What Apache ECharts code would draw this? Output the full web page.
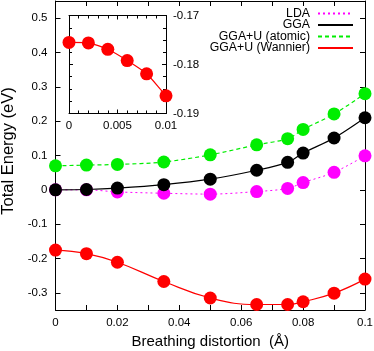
<!DOCTYPE html>
<html>
<head>
<meta charset="utf-8">
<script src="https://cdn.jsdelivr.net/npm/echarts@6/dist/echarts.min.js"></script>
<style>
html, body { margin: 0; padding: 0; background: #fff; }
#main { width: 374px; height: 351px; }
</style>
</head>
<body>
<div id="main"></div>
<script>
var distortion = [0, 0.01, 0.02, 0.035, 0.05, 0.065, 0.075, 0.08, 0.09, 0.1];
var lda      = [0, 0, -0.006, -0.010, -0.0125, -0.005, 0.004, 0.021, 0.051, 0.099];
var gga      = [0, 0.001, 0.005, 0.015, 0.031, 0.057, 0.080, 0.107, 0.151, 0.210];
var ggaUAtom = [0.070, 0.072, 0.074, 0.081, 0.102, 0.131, 0.149, 0.176, 0.221, 0.280];
var ggaUWann = [-0.1755, -0.186, -0.211, -0.267, -0.315, -0.334, -0.334, -0.326, -0.301, -0.260];

var insetX = [0, 0.002, 0.004, 0.006, 0.008, 0.01];
var insetY = [-0.1755, -0.1756, -0.1769, -0.1792, -0.1819, -0.1864];

var yTicks = [-0.3, -0.2, -0.1, 0, 0.1, 0.2, 0.3, 0.4, 0.5];
var seriesNames = ['LDA', 'GGA', 'GGA+U (atomic)', 'GGA+U (Wannier)'];

var font = 'Liberation Sans, Arial, sans-serif';

function pairs(xs, ys) {
	return xs.map(function(x, i) { return [x, ys[i]]; });
}
function fmt(v) {
	return String(Math.round(v * 10000) / 10000);
}

var chart = echarts.init(document.getElementById('main'));

var lineAx = { show: true, onZero: false, lineStyle: { color: '#000', width: 1 } };
var labelSt = { color: '#000', fontSize: 11.5, fontFamily: font };

function legendFor(i, top) {
	return {
		data: [seriesNames[i]],
		right: 20, top: top,
		align: 'right',
		itemWidth: 35, itemHeight: 8, itemGap: 0,
		itemStyle: { opacity: 0 },
		textStyle: { color: '#000', fontSize: 12.3, fontFamily: font, padding: [0, 3, 0, 0] },
		padding: 0,
		selectedMode: false
	};
}

var option = {
	animation: false,
	backgroundColor: '#fff',
	grid: [
		{ left: 55.5, right: 9, top: 1, bottom: 41, outerBoundsMode: 'none', containLabel: false },
		{ left: 69, top: 15.5, width: 97, height: 98, outerBoundsMode: 'none', containLabel: false,
		  show: true, backgroundColor: '#fff', borderWidth: 0 }
	],
	legend: [legendFor(0, 7.5), legendFor(1, 19), legendFor(2, 30.5), legendFor(3, 42)],
	xAxis: [
		{
			type: 'value', gridIndex: 0, min: 0, max: 0.1, interval: 0.02,
			name: 'Breathing distortion  (Å)', nameLocation: 'middle', nameGap: 23,
			nameTextStyle: { color: '#000', fontSize: 15, fontFamily: font },
			axisLine: lineAx, splitLine: { show: false },
			axisTick: { inside: true, length: 5, lineStyle: { color: '#000' } },
			minorTick: { show: true, splitNumber: 2, length: 5, lineStyle: { color: '#000' } },
			axisLabel: Object.assign({ margin: 7, formatter: fmt }, labelSt)
		},
		{
			type: 'value', gridIndex: 0, position: 'top', min: 0, max: 0.1, interval: 0.02,
			axisLine: lineAx, splitLine: { show: false }, axisLabel: { show: false },
			axisTick: { inside: true, length: 5, lineStyle: { color: '#000' } },
			minorTick: { show: true, splitNumber: 2, length: 5, lineStyle: { color: '#000' } }
		},
		{
			type: 'value', gridIndex: 1, min: 0, max: 0.01, interval: 0.005,
			axisLine: lineAx, splitLine: { show: false },
			axisTick: { inside: true, length: 4, lineStyle: { color: '#000' } },
			minorTick: { show: true, splitNumber: 5, length: 3, lineStyle: { color: '#000' } },
			axisLabel: Object.assign({ margin: 6, formatter: fmt }, labelSt)
		},
		{
			type: 'value', gridIndex: 1, position: 'top', min: 0, max: 0.01, interval: 0.005,
			axisLine: lineAx, splitLine: { show: false }, axisLabel: { show: false },
			axisTick: { inside: true, length: 4, lineStyle: { color: '#000' } },
			minorTick: { show: true, splitNumber: 5, length: 3, lineStyle: { color: '#000' } }
		}
	],
	yAxis: [
		{
			type: 'value', gridIndex: 0, min: -0.35, max: 0.55,
			name: 'Total Energy (eV)', nameLocation: 'middle', nameGap: 35,
			nameTextStyle: { color: '#000', fontSize: 16.5, fontFamily: font, padding: [0, 0, 0, 9] },
			axisLine: lineAx, splitLine: { show: false },
			axisTick: { inside: true, length: 5, customValues: yTicks, lineStyle: { color: '#000' } },
			axisLabel: Object.assign({ margin: 8, customValues: yTicks, formatter: fmt }, labelSt)
		},
		{
			type: 'value', gridIndex: 0, position: 'right', min: -0.35, max: 0.55,
			axisLine: lineAx, splitLine: { show: false }, axisLabel: { show: false },
			axisTick: { inside: true, length: 5, customValues: yTicks, lineStyle: { color: '#000' } }
		},
		{
			type: 'value', gridIndex: 1, position: 'right', min: -0.19, max: -0.17, interval: 0.01,
			axisLine: lineAx, splitLine: { show: false },
			axisTick: { inside: true, length: 4, lineStyle: { color: '#000' } },
			minorTick: { show: true, splitNumber: 4, length: 3, lineStyle: { color: '#000' } },
			axisLabel: Object.assign({ margin: 7, formatter: fmt }, labelSt)
		},
		{
			type: 'value', gridIndex: 1, position: 'left', min: -0.19, max: -0.17, interval: 0.01,
			axisLine: lineAx, splitLine: { show: false }, axisLabel: { show: false },
			axisTick: { inside: true, length: 4, lineStyle: { color: '#000' } },
			minorTick: { show: true, splitNumber: 4, length: 3, lineStyle: { color: '#000' } }
		}
	],
	series: [
		{
			name: seriesNames[0], type: 'line', xAxisIndex: 0, yAxisIndex: 0,
			data: pairs(distortion, lda), smooth: 0.3,
			symbol: 'circle', symbolSize: 13, color: '#ff00ff',
			lineStyle: { color: '#ff00ff', width: 1, type: [2, 3] }
		},
		{
			name: seriesNames[1], type: 'line', xAxisIndex: 0, yAxisIndex: 0,
			data: pairs(distortion, gga), smooth: 0.3,
			symbol: 'circle', symbolSize: 13, color: '#000',
			lineStyle: { color: '#000', width: 1.2 }
		},
		{
			name: seriesNames[2], type: 'line', xAxisIndex: 0, yAxisIndex: 0,
			data: pairs(distortion, ggaUAtom), smooth: 0.3,
			symbol: 'circle', symbolSize: 13, color: '#00ee00',
			lineStyle: { color: '#00ee00', width: 1.2, type: [4, 3] }
		},
		{
			name: seriesNames[3], type: 'line', xAxisIndex: 0, yAxisIndex: 0,
			data: pairs(distortion, ggaUWann), smooth: 0.45,
			symbol: 'circle', symbolSize: 13, color: '#ff0000',
			lineStyle: { color: '#ff0000', width: 1.2 }
		},
		{
			name: 'inset', type: 'line', xAxisIndex: 2, yAxisIndex: 2,
			data: pairs(insetX, insetY), smooth: 0.2,
			symbol: 'circle', symbolSize: 13, color: '#ff0000',
			lineStyle: { color: '#ff0000', width: 1.2 }
		}
	]
};

chart.setOption(option);
window.addEventListener('resize', function() { chart.resize(); });
</script>
</body>
</html>
